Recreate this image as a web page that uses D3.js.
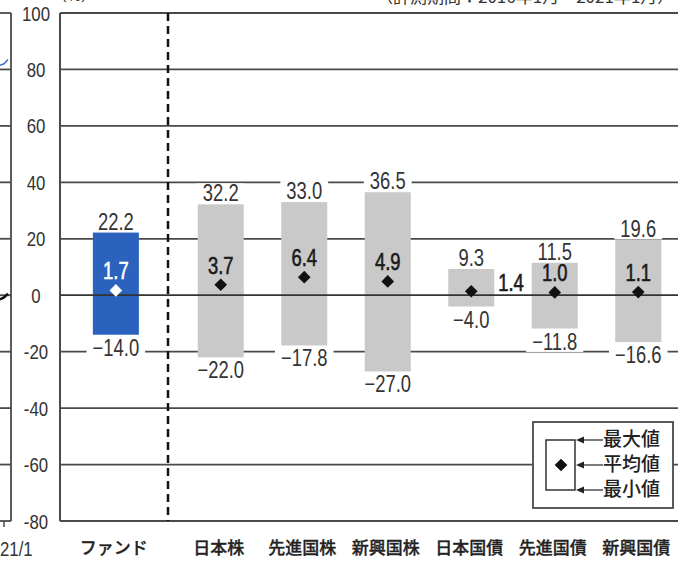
<!DOCTYPE html>
<html>
<head>
<meta charset="utf-8">
<script src="https://cdn.jsdelivr.net/npm/d3@7"></script>
<style>
  html, body { margin: 0; padding: 0; background: #fff; }
  svg { display: block; }
  .num { font-family: "Liberation Sans", Arial, sans-serif; }
  .jp { font-family: "Noto Sans CJK JP", "Noto Sans", sans-serif; }
</style>
</head>
<body>
<svg id="chart" width="678" height="563"></svg>
<script>
// ---- data ----
const categories = ["ファンド", "日本株", "先進国株", "新興国株", "日本国債", "先進国債", "新興国債"];
const maxValues  = [22.2, 32.2, 33.0, 36.5, 9.3, 11.5, 19.6];
const meanValues = [1.7, 3.7, 6.4, 4.9, 1.4, 1.0, 1.1];
const minValues  = [-14.0, -22.0, -17.8, -27.0, -4.0, -11.8, -16.6];
const yTicks = [100, 80, 60, 40, 20, 0, -20, -40, -60, -80];
const legendLabels = ["最大値", "平均値", "最小値"];
// partial neighbouring chart at the left edge
const leftBlackValues = [-1.5, -0.8, 0.6];
const leftBlueValues = [81.5, 82.0, 83.5];
const leftDateLabel = "21/1";
const unitLabel = "（%）";
const periodLabel = "（計測期間：2016年1月～2021年1月）";

// ---- layout ----
const svg = d3.select("#chart");
const plotLeft = 60, plotRight = 700;
const y = d3.scaleLinear().domain([-80, 100]).range([521, 13]);

const xFund = d3.scaleBand().domain(categories.slice(0, 1)).range([74, 158])
  .paddingInner(0.449).paddingOuter(0.2245);
const xAsset = d3.scaleBand().domain(categories.slice(1)).range([179, 680])
  .paddingInner(0.449).paddingOuter(0.2245);
const xPos = c => (c === categories[0] ? xFund(c) : xAsset(c));
const bw = xAsset.bandwidth();

const data = categories.map((c, i) => ({ c, i, max: maxValues[i], mean: meanValues[i], min: minValues[i], fund: i === 0 }));

const gridColor = "#4a4a4a";
const blue = "#2b62bd";
const gray = "#c9c9c9";
const txt = "#333";
const SX = 0.8;      // horizontal condensing of number text
const VAL_FS = 23;   // value label font size

function numText(parent, x, yy, text, anchor, size, fill, extra) {
  const grp = parent.append("g").attr("transform", `translate(${x},${yy}) scale(${SX},1)`);
  const t = grp.append("text").attr("class", "num")
    .attr("x", 0).attr("y", 0).attr("text-anchor", anchor)
    .attr("font-size", size).attr("fill", fill).text(text);
  if (extra) extra(t);
  return { grp, t };
}

// ---- left partial chart ----
const leftX = d3.scalePoint().domain(d3.range(leftBlackValues.length)).range([0, 8]);
const gl = svg.append("g");
gl.selectAll("line.lg").data(yTicks).join("line")
  .attr("x1", 0).attr("x2", 11)
  .attr("y1", d => y(d)).attr("y2", d => y(d))
  .attr("stroke", gridColor).attr("stroke-width", 1.8);
gl.append("line").attr("x1", 11).attr("x2", 11).attr("y1", y(100)).attr("y2", y(-80))
  .attr("stroke", gridColor).attr("stroke-width", 1.8);
gl.append("line").attr("x1", 4).attr("x2", 4).attr("y1", y(-80)).attr("y2", y(-80) + 6)
  .attr("stroke", gridColor).attr("stroke-width", 1.5);
gl.append("path").datum(leftBlackValues)
  .attr("d", d3.line().x((d, i) => leftX(i)).y(d => y(d)))
  .attr("fill", "none").attr("stroke", "#111").attr("stroke-width", 2.5);
gl.append("path").datum(leftBlueValues)
  .attr("d", d3.line().x((d, i) => leftX(i)).y(d => y(d)))
  .attr("fill", "none").attr("stroke", "#3b6fc4").attr("stroke-width", 1.5);
numText(gl, 0, 556, leftDateLabel, "start", 21, txt);

// ---- header (cut off at top in the reference) ----
svg.append("text").attr("class", "jp").attr("x", 52).attr("y", 1)
  .attr("font-size", 15).attr("fill", txt).text(unitLabel);
svg.append("text").attr("class", "jp").attr("x", 376).attr("y", 3)
  .attr("font-size", 17).attr("fill", txt).text(periodLabel);

// ---- y tick labels ----
const ty = svg.append("g");
yTicks.forEach(v => numText(ty, 36, y(v) + 7.5, String(v), "middle", 21, txt));

// ---- gridlines (behind bars) ----
const g = svg.append("g");
g.selectAll("line.grid").data(yTicks.filter(t => t !== 0)).join("line")
  .attr("x1", plotLeft).attr("x2", plotRight)
  .attr("y1", d => y(d)).attr("y2", d => y(d))
  .attr("stroke", gridColor).attr("stroke-width", d => (d === 100 ? 2.2 : 1.8));
g.append("line").attr("x1", plotLeft).attr("x2", plotLeft).attr("y1", y(100)).attr("y2", y(-80))
  .attr("stroke", gridColor).attr("stroke-width", 2);

// ---- bars ----
svg.append("g").selectAll("rect").data(data).join("rect")
  .attr("x", d => xPos(d.c))
  .attr("width", bw)
  .attr("y", d => y(d.max))
  .attr("height", d => y(d.min) - y(d.max))
  .attr("fill", d => (d.fund ? blue : gray));

// zero line above bars
svg.append("line").attr("x1", plotLeft).attr("x2", plotRight).attr("y1", y(0)).attr("y2", y(0))
  .attr("stroke", "#333").attr("stroke-width", 1.8);

// dashed separator
svg.append("line").attr("x1", 168).attr("x2", 168).attr("y1", y(100)).attr("y2", y(-80))
  .attr("stroke", "#111").attr("stroke-width", 2.5).attr("stroke-dasharray", "8,5");

// ---- max / min labels with white backgrounds ----
const labG = svg.append("g");
function labelWithBg(x, yy, text) {
  const { grp, t } = numText(labG, x, yy, text, "middle", VAL_FS, txt);
  const bb = t.node().getBBox();
  const pad = 6 / SX;
  grp.insert("rect", "text").attr("fill", "#fff")
    .attr("x", bb.x - pad).attr("y", bb.y + 3).attr("width", bb.width + 2 * pad).attr("height", bb.height - 5);
}
data.forEach(d => {
  const cx = xPos(d.c) + bw / 2;
  labelWithBg(cx, y(d.max) - 3, d.max.toFixed(1));
  labelWithBg(cx, y(d.min) + 21, "−" + Math.abs(d.min).toFixed(1));
});

// ---- mean markers and labels ----
const mg = svg.append("g");
mg.selectAll("path").data(data).join("path")
  .attr("d", d3.symbol().type(d3.symbolSquare).size(80))
  .attr("transform", d => `translate(${xPos(d.c) + bw / 2},${y(d.mean)}) rotate(45)`)
  .attr("fill", d => (d.fund ? "#fff" : "#111"));
data.forEach(d => {
  const small = y(d.min) - y(d.max) < 45;
  const col = d.fund ? "#fff" : "#1a1a1a";
  const setStroke = t => t.attr("stroke", col).attr("stroke-width", 0.6);
  if (small) {
    numText(mg, xPos(d.c) + bw + 4, y(d.mean), d.mean.toFixed(1), "start", VAL_FS, col, setStroke);
  } else {
    numText(mg, xPos(d.c) + bw / 2, y(d.mean) - 11, d.mean.toFixed(1), "middle", VAL_FS, col, setStroke);
  }
});

// ---- category labels ----
svg.append("g").selectAll("text").data(data).join("text")
  .attr("class", "jp")
  .attr("x", d => xPos(d.c) + bw / 2 - 2)
  .attr("y", 549)
  .attr("text-anchor", "middle").attr("dominant-baseline", "middle")
  .attr("font-size", 17).attr("font-weight", 500).attr("fill", "#222")
  .attr("stroke", "#222").attr("stroke-width", 0.3)
  .text(d => d.c);

// ---- legend ----
const lg = svg.append("g");
lg.append("rect").attr("x", 533).attr("y", 422).attr("width", 140).attr("height", 86)
  .attr("fill", "#fff").attr("stroke", gridColor).attr("stroke-width", 1.8);
lg.append("rect").attr("x", 546).attr("y", 440).attr("width", 29).attr("height", 50)
  .attr("fill", "none").attr("stroke", "#333").attr("stroke-width", 1.5);
lg.append("path").attr("d", d3.symbol().type(d3.symbolSquare).size(80))
  .attr("transform", "translate(561,465) rotate(45)").attr("fill", "#111");
const legY = d3.scalePoint().domain(legendLabels).range([440, 490]);
lg.selectAll("line.arr").data(legendLabels).join("line")
  .attr("x1", 580).attr("x2", 603)
  .attr("y1", d => legY(d)).attr("y2", d => legY(d))
  .attr("stroke", "#333").attr("stroke-width", 1.3);
lg.selectAll("path.head").data(legendLabels).join("path")
  .attr("class", "head")
  .attr("d", d => `M576,${legY(d)} L584,${legY(d) - 3.5} L584,${legY(d) + 3.5} Z`)
  .attr("fill", "#222");
lg.selectAll("text").data(legendLabels).join("text")
  .attr("class", "jp")
  .attr("x", 603).attr("y", d => legY(d) + 1)
  .attr("dominant-baseline", "middle")
  .attr("font-size", 19).attr("font-weight", 500).attr("fill", "#222")
  .text(d => d);
</script>
</body>
</html>
